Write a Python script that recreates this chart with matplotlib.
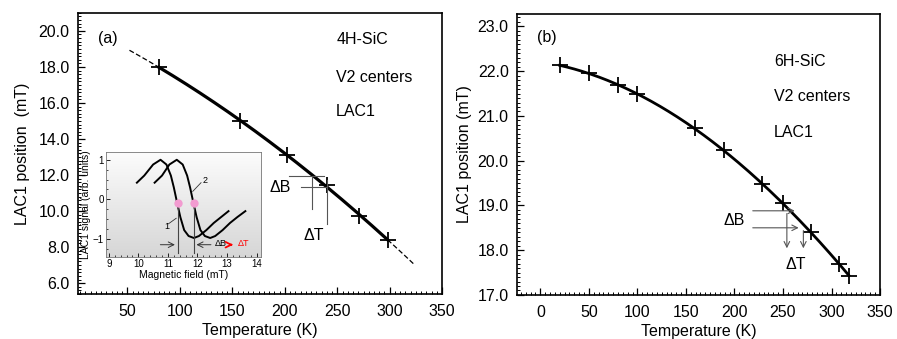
import numpy as np
import matplotlib.pyplot as plt
from matplotlib.ticker import MultipleLocator

plt.rcParams["font.family"] = ["Liberation Sans", "DejaVu Sans"]

# panel (a): 4H-SiC
temp_a = [80, 157, 202, 240, 271, 298]
lac_a = [18.0, 15.0, 13.1, 11.45, 9.75, 8.4]

# panel (b): 6H-SiC
temp_b = [20, 50, 80, 100, 159, 189, 228, 250, 279, 308, 318]
lac_b = [22.13, 21.95, 21.7, 21.48, 20.73, 20.23, 19.47, 19.05, 18.4, 17.7, 17.42]

# inset: LAC1 signal vs magnetic field
field_1 = [9.95, 10.2, 10.5, 10.75, 10.95, 11.1, 11.2, 11.3, 11.42, 11.55, 11.7,
           11.88, 12.05, 12.3, 12.55, 12.8, 13.05]
signal_1 = [0.42, 0.6, 0.88, 1.0, 0.88, 0.6, 0.3, -0.05, -0.45, -0.78, -0.93,
            -0.98, -0.93, -0.78, -0.6, -0.45, -0.3]
field_2 = [10.55, 10.8, 11.05, 11.3, 11.5, 11.65, 11.75, 11.85, 11.97, 12.1, 12.25,
           12.43, 12.6, 12.85, 13.1, 13.35, 13.62]
signal_2 = [0.42, 0.6, 0.88, 1.0, 0.88, 0.6, 0.3, -0.05, -0.45, -0.78, -0.93,
            -0.98, -0.93, -0.78, -0.6, -0.45, -0.3]
cross_field = [11.33, 11.87]
cross_signal = [-0.1, -0.1]

fs = 11.5
fig = plt.figure(figsize=(8.97, 3.39), dpi=100)
ax1 = fig.add_axes([0.087, 0.133, 0.406, 0.829])
ax2 = fig.add_axes([0.5764, 0.130, 0.4047, 0.829])


def style_axis(ax):
    ax.tick_params(which="both", direction="in", top=False, right=False, labelsize=fs)
    ax.tick_params(which="major", length=5, width=0.9)
    ax.tick_params(which="minor", length=2.5, width=0.7)
    ax.tick_params(axis="x", which="major", pad=7)
    ax.tick_params(axis="y", which="major", pad=6)
    for s in ax.spines.values():
        s.set_linewidth(1.2)


# ---- panel (a)
coef_a = np.polyfit(temp_a, lac_a, 2)
t_fit = np.linspace(min(temp_a), max(temp_a), 200)
ax1.plot(t_fit, np.polyval(coef_a, t_fit), color="black", lw=2.3)
t_lo = np.linspace(52, min(temp_a), 30)
t_hi = np.linspace(max(temp_a), 323, 30)
ax1.plot(t_lo, np.polyval(coef_a, t_lo), color="black", lw=0.9, ls=(0, (4, 2)))
ax1.plot(t_hi, np.polyval(coef_a, t_hi), color="black", lw=0.9, ls=(0, (4, 2)))
ax1.plot(temp_a, lac_a, "+", color="black", ms=11, mew=1.3)

ax1.set_xlim(3, 347)
ax1.set_ylim(5.4, 21.0)
ax1.set_xticks([50, 100, 150, 200, 250, 300, 350])
ax1.set_yticks(np.arange(6, 21, 2))
ax1.set_yticklabels([f"{v:.1f}" for v in np.arange(6, 21, 2)])
ax1.xaxis.set_minor_locator(MultipleLocator(5))
ax1.yaxis.set_minor_locator(MultipleLocator(0.2))
style_axis(ax1)
ax1.set_xlabel("Temperature (K)", fontsize=fs, labelpad=3)
ax1.set_ylabel("LAC1 position  (mT)", fontsize=fs, labelpad=6)

ax1.text(31, 19.56, "(a)", fontsize=fs, ha="center", va="center")
ax1.text(249, 19.5, "4H-SiC", fontsize=fs, va="center")
ax1.text(249, 17.44, "V2 centers", fontsize=fs, va="center")
ax1.text(249, 15.5, "LAC1", fontsize=fs, va="center")
ax1.text(196, 11.33, "ΔB", fontsize=fs, ha="center", va="center")
ax1.text(228, 8.67, "ΔT", fontsize=fs, ha="center", va="center")
gray = "#555555"
ax1.plot([204, 237], [11.94, 11.94], color=gray, lw=0.8)
ax1.plot([215, 240], [11.33, 11.33], color=gray, lw=0.8)
ax1.plot([226, 226], [11.94, 10.1], color=gray, lw=0.8)
ax1.plot([240, 240], [11.7, 9.3], color=gray, lw=0.8)

# ---- inset
axi = fig.add_axes([0.118, 0.242, 0.173, 0.31])
# light grey at the bottom fading to white at the top
shade = np.linspace(0.84, 0.99, 100)
bg = np.repeat(shade[:, None, None], 3, axis=2)
axi.imshow(bg, extent=[8.9, 14.15, -1.46, 1.2], aspect="auto", origin="lower",
           interpolation="bilinear", zorder=0)
axi.plot(field_1, signal_1, color="black", lw=1.4)
axi.plot(field_2, signal_2, color="black", lw=1.4)
axi.plot(cross_field, cross_signal, "o", color="#f29bd0", ms=6, mec="none", zorder=5)
for xv in cross_field:
    axi.plot([xv, xv], [-0.1, -1.35], color="#444444", lw=0.8)
axi.annotate("", xy=(cross_field[0], -1.15), xytext=(10.65, -1.15),
             arrowprops=dict(arrowstyle="->", color="#333333", lw=0.7))
axi.annotate("", xy=(cross_field[1], -1.15), xytext=(12.55, -1.15),
             arrowprops=dict(arrowstyle="->", color="#333333", lw=0.7))
axi.text(12.6, -1.13, "ΔB", fontsize=6.5, va="center")
axi.annotate("", xy=(13.3, -1.15), xytext=(13.0, -1.15),
             arrowprops=dict(arrowstyle="->", color="red", lw=1.3))
axi.text(13.35, -1.13, "ΔT", fontsize=6.5, va="center", color="red")
axi.text(10.95, -0.68, "1", fontsize=6.5, ha="center", va="center")
axi.plot([11.02, 11.28], [-0.62, -0.48], color="#333333", lw=0.6)
axi.text(12.25, 0.48, "2", fontsize=6.5, ha="center", va="center")
axi.plot([12.12, 11.84], [0.42, 0.2], color="#333333", lw=0.6)
axi.set_xlim(8.9, 14.15)
axi.set_ylim(-1.46, 1.2)
axi.set_xticks([9, 10, 11, 12, 13, 14])
axi.set_yticks([-1, 0, 1])
axi.xaxis.set_minor_locator(MultipleLocator(0.2))
axi.yaxis.set_minor_locator(MultipleLocator(0.25))
axi.tick_params(which="both", direction="in", labelsize=7, pad=1.5)
axi.tick_params(which="major", length=3, width=0.6)
axi.tick_params(which="minor", length=1.5, width=0.5)
for s in axi.spines.values():
    s.set_linewidth(0.6)
    s.set_color("#777777")
axi.set_xlabel("Magnetic field (mT)", fontsize=7.5, labelpad=1)
axi.set_ylabel("LAC1 signal (arb. units)", fontsize=7.5, labelpad=1)

# ---- panel (b)
coef_b = np.polyfit(temp_b, lac_b, 3)
tb_fit = np.linspace(min(temp_b), max(temp_b), 200)
ax2.plot(tb_fit, np.polyval(coef_b, tb_fit), color="black", lw=2.0)
ax2.plot(temp_b, lac_b, "+", color="black", ms=11, mew=1.3)
ax2.set_xlim(-24, 347)
ax2.set_ylim(17.0, 23.28)
ax2.set_xticks(np.arange(0, 351, 50))
ax2.set_yticks(np.arange(17, 24, 1))
ax2.set_yticklabels([f"{v:.1f}" for v in np.arange(17, 24, 1)])
ax2.xaxis.set_minor_locator(MultipleLocator(5))
ax2.yaxis.set_minor_locator(MultipleLocator(0.1))
style_axis(ax2)
ax2.set_xlabel("Temperature (K)", fontsize=fs, labelpad=3)
ax2.set_ylabel("LAC1 position (mT)", fontsize=fs, labelpad=4)

ax2.text(7, 22.76, "(b)", fontsize=fs, ha="center", va="center")
ax2.text(241, 22.21, "6H-SiC", fontsize=fs, va="center")
ax2.text(241, 21.43, "V2 centers", fontsize=fs, va="center")
ax2.text(241, 20.62, "LAC1", fontsize=fs, va="center")
ax2.text(200, 18.67, "ΔB", fontsize=fs, ha="center", va="center")
ax2.text(263, 17.67, "ΔT", fontsize=fs, ha="center", va="center")
arr = dict(arrowstyle="->", color=gray, lw=0.8)
ax2.annotate("", xy=(265, 18.88), xytext=(216, 18.88), arrowprops=arr)
ax2.annotate("", xy=(269, 18.5), xytext=(216, 18.5), arrowprops=arr)
ax2.annotate("", xy=(254, 17.98), xytext=(254, 18.88), arrowprops=arr)
ax2.annotate("", xy=(271, 17.98), xytext=(271, 18.5), arrowprops=arr)

fig.savefig("out.png", dpi=100)
